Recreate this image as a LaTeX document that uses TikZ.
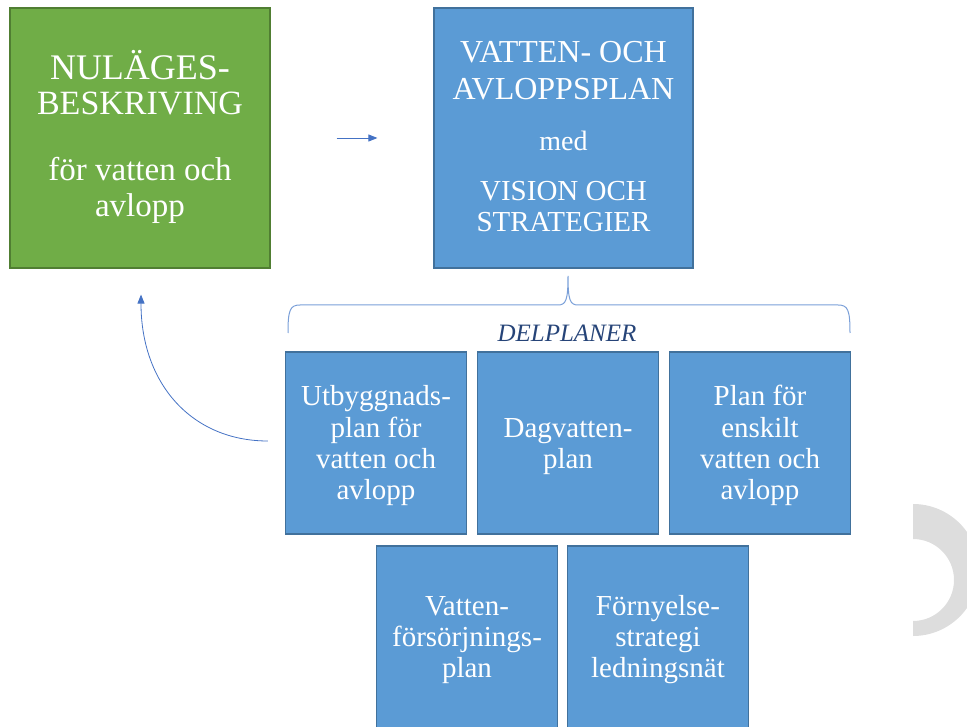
\documentclass[tikz,border=0pt]{standalone}
\usepackage{fontspec}
\setmainfont{Liberation Serif}
\usetikzlibrary{arrows.meta}
\definecolor{gfill}{HTML}{70AD47}
\definecolor{gline}{HTML}{507E32}
\definecolor{bfill}{HTML}{5B9BD5}
\definecolor{bline}{HTML}{41719C}
\definecolor{arr}{HTML}{4472C4}
\definecolor{brc}{HTML}{7A9FD8}
\definecolor{dtxt}{HTML}{264478}
\definecolor{crs}{HTML}{DDDDDD}
\tikzset{
  box/.style={draw=bline, fill=bfill, line width=1.2pt, inner sep=0pt},
  gbox/.style={draw=gline, fill=gfill, line width=1.2pt, inner sep=0pt},
  conn/.style={draw=arr, line width=0.9pt, -{Triangle[length=9pt,width=7pt]}},
  sub/.style={box, minimum width=181pt, minimum height=182pt},
  tl/.style={anchor=base, text=white, inner sep=0pt},
  fa/.style={font=\fontsize{34}{40}\selectfont},
  fb/.style={font=\fontsize{33}{40}\selectfont},
  fc/.style={font=\fontsize{32}{38}\selectfont},
  fd/.style={font=\fontsize{29}{34}\selectfont},
  fm/.style={font=\fontsize{28}{34}\selectfont},
}
\begin{document}
\begin{tikzpicture}[x=1pt,y=-1pt]
\useasboundingbox (0,0) rectangle (967,727);
% crescent
\begin{scope}
\clip (913,0) rectangle (967,727);
\fill[crs, even odd rule] (913,570) circle[radius=66] (913,580) circle[radius=41];
\end{scope}
% green box
\node[gbox, minimum width=260pt, minimum height=260pt] (g) at (140,138) {};
\node[tl, font=\fontsize{36}{40}\selectfont] (g1) at (140,80) {NULÄGES-};
\node[tl, fa] (g2) at (140,115) {BESKRIVING};
\node[tl, fb] (g3) at (140,181) {för vatten och};
\node[tl, fb] (g4) at (140,217) {avlopp};
% top blue box
\node[box, minimum width=259pt, minimum height=260pt] (v) at (563.5,138) {};
\node[tl, fc] (v1) at (563.5,63) {VATTEN- OCH};
\node[tl, fc] (v2) at (563.5,100) {AVLOPPSPLAN};
\node[tl, fm] (v3) at (563.5,151) {med};
\node[tl, fd] (v4) at (563.5,201) {VISION OCH};
\node[tl, fd] (v5) at (563.5,232) {STRATEGIER};
\draw[conn] ([xshift=66pt]g.east) -- ([xshift=-56pt]v.west);
% brace
\coordinate (bt) at (568,276);
\draw[brc, line width=1pt] (288,333) .. controls (288,310) and (290,305) .. (300,305)
  -- (558,305) .. controls (566,305) and (568,300) .. (bt)
  (bt) .. controls (568,300) and (570,305) .. (578,305)
  -- (838,305) .. controls (848,305) and (850,310) .. (850,333);
\node[text=dtxt, font=\fontsize{25}{28}\selectfont\itshape, anchor=base] (dl) at (567,342) {DELPLANER};
% sub plans
\node[sub] (u1) at (376,443) {};
\node[sub] (u2) at (568,443) {};
\node[sub] (u3) at (760,443) {};
\node[sub, minimum height=190pt] (u4) at (467,641) {};
\node[sub, minimum height=190pt] (u5) at (658,641) {};
\node[tl, fd] (a1) at (376,406) {Utbyggnads-};
\node[tl, fd] (a2) at (376,437) {plan för};
\node[tl, fd] (a3) at (376,468) {vatten och};
\node[tl, fd] (a4) at (376,499) {avlopp};
\node[tl, fd] (b1) at (568,437) {Dagvatten-};
\node[tl, fd] (b2) at (568,468) {plan};
\node[tl, fd] (c1) at (760,406) {Plan för};
\node[tl, fd] (c2) at (760,437) {enskilt};
\node[tl, fd] (c3) at (760,468) {vatten och};
\node[tl, fd] (c4) at (760,499) {avlopp};
\node[tl, fd] (d1) at (467,615) {Vatten-};
\node[tl, fd] (d2) at (467,646) {försörjnings-};
\node[tl, fd] (d3) at (467,677) {plan};
\node[tl, fd] (e1) at (658,615) {Förnyelse-};
\node[tl, fd] (e2) at (658,646) {strategi};
\node[tl, fd] (e3) at (658,677) {ledningsnät};
% return arrow
\draw[conn, line width=0.8pt] ([xshift=-17pt,yshift=2pt]u1.west) .. controls (192,441) and (141,384) .. ([xshift=1pt,yshift=-26pt]g.south);
\end{tikzpicture}
\end{document}
